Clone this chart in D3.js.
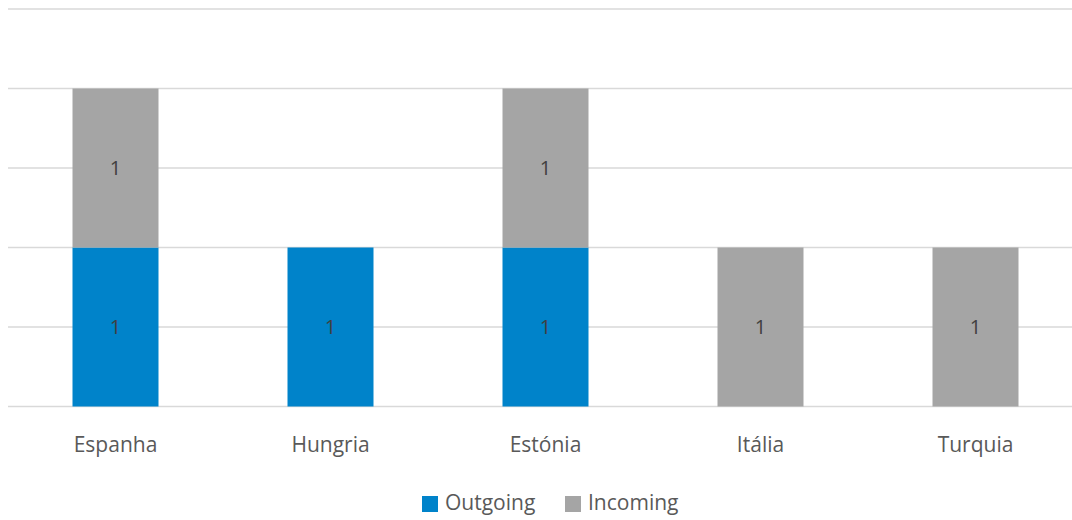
<!DOCTYPE html>
<html><head><meta charset="utf-8">
<script src="https://cdn.jsdelivr.net/npm/d3@7"></script>
<style>body{margin:0;background:#fff}svg{display:block;font-family:"Open Sans",sans-serif}</style>
</head><body><svg id="c" width="1072" height="520"></svg>
<script>
const categories = ["Espanha","Hungria","Estónia","Itália","Turquia"];
const outgoing = [1,1,1,0,0];
const incoming = [1,0,1,1,1];
const yTicks = [0,0.5,1,1.5,2,2.5];
const seriesNames = ["Outgoing","Incoming"];
const colors = ["#0083CA","#A5A5A5"];

const svg = d3.select("#c");
const x = d3.scaleBand().domain(categories).range([8,1083]).paddingInner(0.6).paddingOuter(0.3);
const y = d3.scaleLinear().domain([0,2.5]).range([406.5,9]);

svg.append("g").selectAll("line").data(yTicks).join("line")
  .attr("x1",8).attr("x2",1072).attr("y1",d=>y(d)).attr("y2",d=>y(d))
  .attr("stroke","#D9D9D9").attr("stroke-width",1.5);

const data = categories.map((c,i)=>({c, vals:[outgoing[i],incoming[i]]}));
const g = svg.append("g");
data.forEach(d=>{
  let base=0;
  d.vals.forEach((v,si)=>{
    if(v>0){
      g.append("rect").attr("x",x(d.c)).attr("width",x.bandwidth())
        .attr("y",y(base+v)).attr("height",y(base)-y(base+v)).attr("fill",colors[si]);
      g.append("text").attr("x",x(d.c)+x.bandwidth()/2).attr("y",(y(base)+y(base+v))/2)
        .attr("dy","0.35em").attr("text-anchor","middle").attr("font-size",20)
        .attr("fill","#404040").text(v);
    }
    base+=v;
  });
});

const xa = svg.append("g").attr("transform","translate(0,406.5)")
  .call(d3.axisBottom(x).tickSize(0).tickPadding(31));
xa.select(".domain").remove();
xa.selectAll("text").attr("font-size",21).attr("fill","#595959").attr("font-family","'Open Sans',sans-serif");

const leg = svg.append("g");
const lx = [422,565];
seriesNames.forEach((n,i)=>{
  leg.append("rect").attr("x",lx[i]).attr("y",496).attr("width",16).attr("height",16).attr("fill",colors[i]);
  leg.append("text").attr("x",lx[i]+23).attr("y",503).attr("dy","0.35em").attr("font-size",21)
    .attr("fill","#595959").text(n);
});
</script></body></html>
